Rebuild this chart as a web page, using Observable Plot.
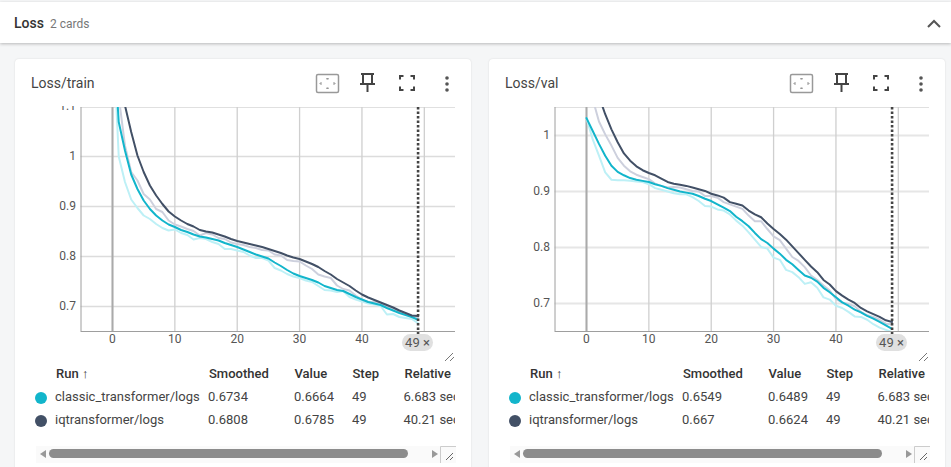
<!DOCTYPE html>
<html><head><meta charset="utf-8">
<script src="https://cdn.jsdelivr.net/npm/d3@7"></script>
<script src="https://cdn.jsdelivr.net/npm/@observablehq/plot@0.6"></script>
<style>
html,body{margin:0;padding:0;width:951px;height:467px;overflow:hidden;background:#f5f6f7;font-family:Roboto,sans-serif;color:#212121}
#header{position:absolute;left:0;top:2px;width:951px;height:41px;background:#fff;box-shadow:0 1px 3px rgba(0,0,0,.25)}
#header .t{position:absolute;left:14px;top:13px;font-size:14px;font-weight:500;color:#333}
#header .c{position:absolute;left:50px;top:15px;font-size:12px;color:#777}
#header svg{position:absolute;left:926px;top:14px}
.card{position:absolute;top:59px;height:420px;background:#fff;border-radius:4px;box-shadow:0 0 2px rgba(0,0,0,.12);overflow:hidden}
.title{position:absolute;left:16px;top:16px;font-size:14px;color:#444}
.icons{position:absolute;top:13px;left:0}
.plot{position:absolute;left:0;top:47px}
.plot svg{display:block;overflow:hidden}
.chip{position:absolute;height:17px;line-height:17px;width:31px;top:275px;background:#e0e0e0;border-radius:9px;font-size:13px;text-align:center;color:#555}
.tbl{position:absolute;left:0;top:300px;height:70px;overflow:hidden}
.cell{position:absolute;font-size:13px;white-space:nowrap;color:#444}
.head{font-weight:500;color:#333}
.dot{position:absolute;width:12px;height:12px;border-radius:50%}
.sb{position:absolute;top:387px;height:17px;background:#fafafa}
.thumb{position:absolute;top:3px;height:9px;border-radius:5px;background:#8c8c8c}
</style></head><body>
<div id="header"><div class="t">Loss</div><div class="c">2 cards</div>
<svg width="16" height="16" viewBox="0 0 16 16"><path d="M2 11 L8 5 L14 11" fill="none" stroke="#555" stroke-width="2"/></svg></div>
<div id="cards"></div>
<script>
const steps = d3.range(50);
const trainClassicSmoothed = [1.27,1.069,1.012,.964,.935,.912,.895,.882,.872,.864,.859,.853,.849,.844,.840,.838,.835,.832,.827,.823,.819,.814,.809,.804,.800,.796,.788,.781,.773,.766,.761,.757,.753,.748,.741,.737,.733,.731,.725,.719,.714,.709,.706,.703,.697,.692,.687,.683,.679,.6734];
const trainClassicValue = [1.27,1.0,.949,.914,.897,.882,.875,.865,.857,.852,.854,.847,.843,.834,.837,.835,.829,.825,.815,.815,.812,.809,.802,.797,.797,.792,.777,.772,.765,.760,.757,.752,.749,.741,.733,.732,.729,.731,.719,.714,.710,.706,.704,.701,.684,.685,.679,.677,.675,.6664];
const trainIqSmoothed = [1.35,1.2,1.102,1.049,1.002,.969,.942,.922,.905,.890,.880,.872,.865,.860,.853,.850,.848,.844,.840,.835,.831,.828,.825,.822,.819,.815,.811,.807,.802,.798,.795,.790,.785,.779,.771,.764,.755,.748,.741,.732,.724,.718,.713,.708,.703,.698,.692,.687,.682,.6808];
const trainIqValue = [1.35,1.12,1.022,.969,.952,.925,.914,.895,.889,.872,.864,.860,.855,.851,.842,.847,.844,.837,.835,.828,.825,.823,.819,.817,.813,.812,.804,.802,.793,.791,.790,.782,.775,.764,.760,.757,.742,.735,.732,.722,.713,.709,.709,.707,.701,.696,.689,.685,.679,.6785];
const valClassicSmoothed = [1.031,1.008,.985,.964,.946,.935,.929,.924,.921,.919,.917,.913,.910,.906,.903,.900,.898,.896,.892,.887,.883,.877,.871,.865,.855,.847,.838,.826,.815,.808,.798,.789,.778,.770,.760,.750,.746,.739,.728,.720,.711,.702,.696,.689,.684,.678,.673,.667,.661,.6549];
const valClassicValue = [1.031,.993,.964,.934,.921,.920,.920,.919,.918,.917,.913,.906,.903,.900,.897,.895,.895,.890,.883,.874,.873,.868,.866,.859,.848,.839,.827,.814,.801,.798,.782,.778,.760,.756,.747,.735,.738,.728,.711,.707,.696,.692,.685,.677,.676,.671,.663,.657,.653,.6489];
const valIqSmoothed = [1.2,1.12,1.07,1.038,1.011,.988,.968,.955,.945,.938,.933,.929,.923,.917,.914,.912,.910,.907,.904,.901,.896,.893,.889,.881,.878,.875,.866,.859,.854,.843,.833,.824,.814,.802,.790,.778,.766,.756,.742,.734,.722,.714,.707,.701,.692,.686,.681,.676,.670,.667];
const valIqValue = [1.12,1.065,1.025,1.002,.982,.960,.946,.936,.930,.926,.922,.914,.910,.907,.908,.907,.904,.901,.900,.892,.892,.889,.881,.877,.873,.869,.857,.847,.847,.833,.820,.813,.798,.783,.776,.765,.750,.742,.732,.723,.708,.702,.699,.695,.685,.679,.676,.671,.664,.6624];

const runs = ["classic_transformer/logs","iqtransformer/logs"];
const runColors = ["#12b5cb","#425066"];
const rawColors = ["#bdf0f6","#cdd0dd"];
const headers = ["Smoothed","Value","Step","Relative"];
const xTicks = [0,10,20,30,40,50];
const xLabels = [0,10,20,30,40];
const relative = ["6.683 sec","40.21 sec"];

const panels = [
 {title:"Loss/train",left:15,width:456,yDomain:[.65,1.098],yTicks:[.7,.8,.9,1,1.1],
  series:[trainClassicValue,trainIqValue,trainClassicSmoothed,trainIqSmoothed],
  smoothed:["0.6734","0.6808"],value:["0.6664","0.6785"],gridW:1.3,gridC:"#dcdcdc"},
 {title:"Loss/val",left:489,width:456,yDomain:[.65,1.05],yTicks:[.7,.8,.9,1],
  series:[valClassicValue,valIqValue,valClassicSmoothed,valIqSmoothed],
  smoothed:["0.6549","0.667"],value:["0.6489","0.6624"],gridW:2,gridC:"#e6e6e6"}
];
const host = document.getElementById("cards");
panels.forEach(p=>{
  const card=document.createElement("div");card.className="card";
  card.style.left=p.left+"px";card.style.width=p.width+"px";
  card.innerHTML=`<div class="title">${p.title}</div>
  <svg class="icons" width="${p.width}" height="30" fill="none" stroke="#666">
   <rect x="301.5" y="2.5" width="22" height="18" rx="1.5" stroke="#999" stroke-width="1.5"/>
   <path d="M312.5 6 l-1 1 h2 z M312.5 17 l-1 -1 h2 z M305 11.5 l1 -1 v2 z M320 11.5 l-1 -1 v2 z" stroke="#888"/>
   <path d="M346 2 h13 M348 2 v9 M357 2 v9 M345 12 h15 M352.5 12 v8" stroke="#444" stroke-width="2"/>
   <path d="M385 7.5 v-3.500 h3.500 M395.500 4 h3.500 v3.500 M399 14.500 v3.500 h-3.500 M388.500 18 h-3.500 v-3.500" stroke="#444" stroke-width="2"/>
   <circle cx="432" cy="6" r="1.8" fill="#555" stroke="none"/><circle cx="432" cy="12" r="1.8" fill="#555" stroke="none"/><circle cx="432" cy="18" r="1.8" fill="#555" stroke="none"/>
  </svg>`;
  const lines=p.series.map((vals,i)=>Plot.line(steps.map((s,j)=>({s,v:vals[j]})),{x:"s",y:"v",stroke:(i<2?rawColors:runColors)[i%2],strokeWidth:2,curve:"linear",clip:true}));
  const chart=Plot.plot({
    width:p.width-6,height:255,
    marginLeft:65.5,marginRight:10,marginTop:1,marginBottom:30,
    style:{fontFamily:"Roboto,sans-serif",fontSize:"12px",color:"#555",background:"transparent"},
    x:{domain:[-5.05,55],label:null},
    y:{domain:p.yDomain,label:null},
    marks:[
      Plot.ruleY(p.yTicks.filter(t=>t<=1),{stroke:p.gridC,strokeWidth:p.gridW}),
      Plot.ruleY([p.yDomain[1]],{stroke:"#e0e0e0",strokeWidth:1}),
      Plot.ruleX(xTicks,{stroke:"#cfcfcf",strokeWidth:1.3}),
      Plot.ruleX([0],{stroke:"#aaaaaa",strokeWidth:2}),
      Plot.ruleX([-5.05],{stroke:"#9e9e9e",strokeWidth:1}),
      Plot.ruleY([p.yDomain[0]],{stroke:"#9e9e9e",strokeWidth:1}),
      Plot.axisX({ticks:xLabels,tickSize:0,tickPadding:3,label:null,fill:"#555"}),
      Plot.axisY({ticks:p.yTicks,tickSize:0,tickPadding:5,label:null,fill:"#555",
        tickFormat:d=>d===1?"1":d3.format(".1f")(d)}),
      ...lines,
      Plot.ruleX([49],{y1:p.yDomain[0]-17*(p.yDomain[1]-.65)/224,y2:p.yDomain[1],stroke:"#444",strokeWidth:2.6,strokeDasharray:"2.5 2"})
    ]
  });
  const wrap=document.createElement("div");wrap.className="plot";wrap.appendChild(chart);card.appendChild(wrap);
  const chip=document.createElement("div");chip.className="chip";chip.textContent="49 ×";chip.style.left="387px";card.appendChild(chip);
  const handle=document.createElementNS("http://www.w3.org/2000/svg","svg");
  handle.setAttribute("width",14);handle.setAttribute("height",14);
  handle.style.cssText="position:absolute;left:428px;top:290px";
  handle.innerHTML='<path d="M2 12 L10 4 M7 12 L11 8" stroke="#777" fill="none"/>';
  card.appendChild(handle);
  const tbl=document.createElement("div");tbl.className="tbl";tbl.style.width="440px";
  const cols=[194,279.5,337.5,389.5];
  const add=(txt,x,y,cls)=>{const c=document.createElement("div");c.className="cell"+(cls?" "+cls:"");c.textContent=txt;c.style.left=x+"px";c.style.top=y+"px";tbl.appendChild(c);};
  add("Run ↑",41,7,"head");
  headers.forEach((h,i)=>add(h,cols[i],7,"head"));
  runs.forEach((r,i)=>{
    const y=30+i*23;
    add(r,40,y);add(p.smoothed[i],193,y);add(p.value[i],279,y);add("49",337,y);add(relative[i],388.5,y);
    const d=document.createElement("div");d.className="dot";d.style.cssText=`left:20px;top:${y+3}px;background:${runColors[i]}`;tbl.appendChild(d);
  });
  card.appendChild(tbl);
  const sb=document.createElement("div");sb.className="sb";sb.style.left="21px";sb.style.width="420px";
  sb.innerHTML=`<div class="thumb" style="left:13px;width:359px"></div>
  <svg width="420" height="17" style="position:absolute;left:0;top:0"><path d="M4 8 l6 -4 v8 z M396 4 l6 4 l-6 4 z" fill="#999"/>
  <path d="M404.5 17 V0.5 H420" fill="none" stroke="#ccc"/><path d="M410 14 l7 -7 M414 14 l3 -3" stroke="#666"/></svg>`;
  card.appendChild(sb);
  host.appendChild(card);
});
</script>
</body></html>
